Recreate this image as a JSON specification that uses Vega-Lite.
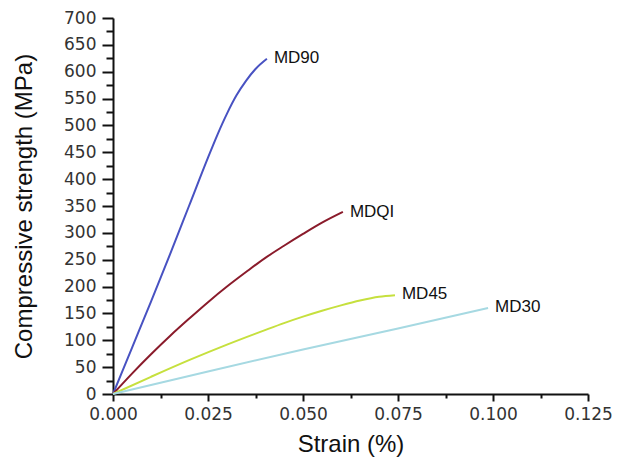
{
  "$schema": "https://vega.github.io/schema/vega-lite/v6.json",
  "autosize": "none",
  "width": 475,
  "height": 376,
  "padding": {"left": 113, "top": 18, "right": 37, "bottom": 65},
  "background": "white",
  "config": {
    "view": {"stroke": null},
    "axis": {"grid": false, "domainColor": "#111", "domainWidth": 2, "tickColor": "#111", "tickWidth": 2,
      "labelFont": "DejaVu Sans", "labelFontSize": 17, "labelColor": "#333", "labelFlush": false,
      "titleFont": "Liberation Sans", "titleFontSize": 24, "titleFontWeight": "normal", "titleColor": "#111", "labelOverlap": false}
  },
  "datasets": {
    "curves": [
      {"series": "MD90", "strain": 0, "stress": 0},
      {"series": "MD90", "strain": 0.005, "stress": 86},
      {"series": "MD90", "strain": 0.01, "stress": 172},
      {"series": "MD90", "strain": 0.015, "stress": 260},
      {"series": "MD90", "strain": 0.02, "stress": 350},
      {"series": "MD90", "strain": 0.025, "stress": 440},
      {"series": "MD90", "strain": 0.0275, "stress": 483},
      {"series": "MD90", "strain": 0.03, "stress": 522},
      {"series": "MD90", "strain": 0.0325, "stress": 556},
      {"series": "MD90", "strain": 0.035, "stress": 583},
      {"series": "MD90", "strain": 0.0375, "stress": 605},
      {"series": "MD90", "strain": 0.0405, "stress": 624},
      {"series": "MDQI", "strain": 0, "stress": 0},
      {"series": "MDQI", "strain": 0.005, "stress": 38},
      {"series": "MDQI", "strain": 0.01, "stress": 74},
      {"series": "MDQI", "strain": 0.015, "stress": 108},
      {"series": "MDQI", "strain": 0.02, "stress": 140},
      {"series": "MDQI", "strain": 0.025, "stress": 171},
      {"series": "MDQI", "strain": 0.03, "stress": 200},
      {"series": "MDQI", "strain": 0.035, "stress": 227},
      {"series": "MDQI", "strain": 0.04, "stress": 253},
      {"series": "MDQI", "strain": 0.045, "stress": 276},
      {"series": "MDQI", "strain": 0.05, "stress": 298},
      {"series": "MDQI", "strain": 0.055, "stress": 319},
      {"series": "MDQI", "strain": 0.0605, "stress": 339},
      {"series": "MD45", "strain": 0, "stress": 0},
      {"series": "MD45", "strain": 0.01, "stress": 32},
      {"series": "MD45", "strain": 0.02, "stress": 63},
      {"series": "MD45", "strain": 0.03, "stress": 92},
      {"series": "MD45", "strain": 0.04, "stress": 119},
      {"series": "MD45", "strain": 0.045, "stress": 132},
      {"series": "MD45", "strain": 0.05, "stress": 144},
      {"series": "MD45", "strain": 0.055, "stress": 155},
      {"series": "MD45", "strain": 0.06, "stress": 165},
      {"series": "MD45", "strain": 0.065, "stress": 174},
      {"series": "MD45", "strain": 0.07, "stress": 181},
      {"series": "MD45", "strain": 0.0742, "stress": 184},
      {"series": "MD30", "strain": 0, "stress": 0},
      {"series": "MD30", "strain": 0.025, "stress": 42},
      {"series": "MD30", "strain": 0.05, "stress": 83},
      {"series": "MD30", "strain": 0.075, "stress": 122},
      {"series": "MD30", "strain": 0.0987, "stress": 160}
    ],
    "labels": [
      {"series": "MD90", "strain": 0.0405, "stress": 626},
      {"series": "MDQI", "strain": 0.0605, "stress": 339},
      {"series": "MD45", "strain": 0.0742, "stress": 187},
      {"series": "MD30", "strain": 0.0987, "stress": 162}
    ]
  },
  "encoding": {
    "x": {"field": "strain", "type": "quantitative",
      "scale": {"domain": [0, 0.125], "nice": false, "zero": false},
      "axis": {"title": "Strain (%)",
        "values": [0, 0.0125, 0.025, 0.0375, 0.05, 0.0625, 0.075, 0.0875, 0.1, 0.1125, 0.125],
        "format": ".3f",
        "labelExpr": "round(datum.value*80) % 2 == 0 ? datum.label : ''",
        "tickSize": {"condition": {"test": "round(datum.value*80) % 2 == 0", "value": 7}, "value": 4},
        "labelPadding": 5, "titlePadding": 10}},
    "y": {"field": "stress", "type": "quantitative",
      "scale": {"domain": [0, 700], "nice": false},
      "axis": {"title": "Compressive strength (MPa)",
        "values": [0,25,50,75,100,125,150,175,200,225,250,275,300,325,350,375,400,425,450,475,500,525,550,575,600,625,650,675,700],
        "labelExpr": "datum.value % 50 == 0 ? datum.label : ''",
        "tickSize": {"condition": {"test": "datum.value % 50 == 0", "value": 11}, "value": 7},
        "labelPadding": 6, "titlePadding": 27}}
  },
  "layer": [
    {
      "data": {"name": "curves"},
      "mark": {"type": "line", "interpolate": "monotone", "strokeWidth": 2},
      "encoding": {
        "color": {"field": "series", "type": "nominal",
          "scale": {"domain": ["MD90", "MDQI", "MD45", "MD30"], "range": ["#4852c2", "#8a1b2b", "#c6e03e", "#a6d9e2"]},
          "legend": null}
      }
    },
    {
      "data": {"name": "labels"},
      "mark": {"type": "text", "align": "left", "baseline": "middle", "dx": 7, "font": "Liberation Sans", "fontSize": 17, "color": "#111"},
      "encoding": {"text": {"field": "series"}}
    }
  ]
}
